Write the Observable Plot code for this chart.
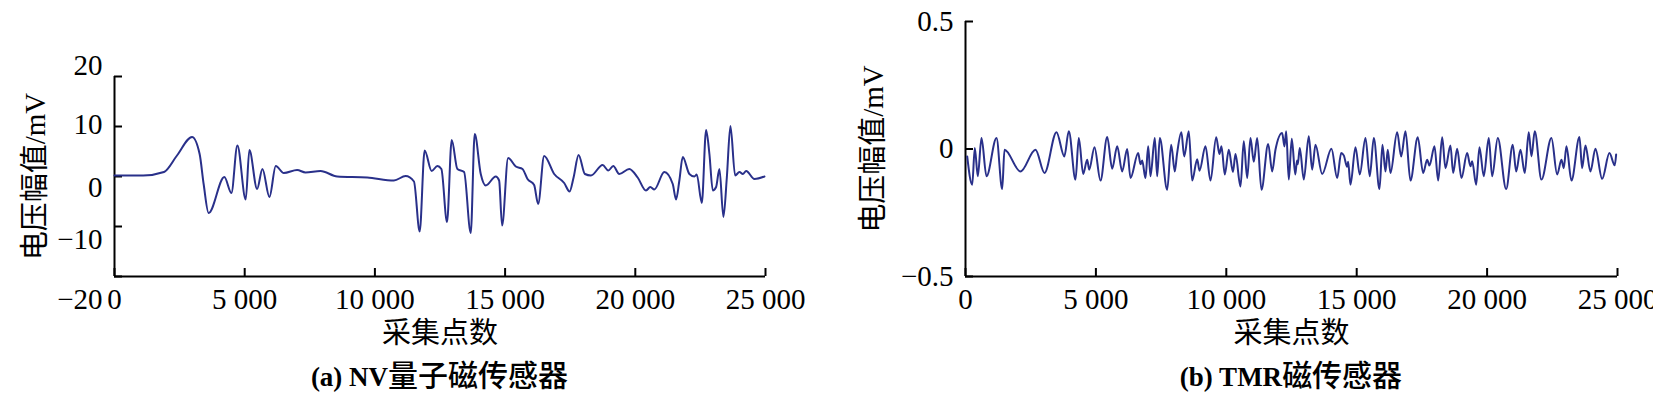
<!DOCTYPE html>
<html><head><meta charset="utf-8">
<script src="https://cdn.jsdelivr.net/npm/d3@7"></script>
<script src="https://cdn.jsdelivr.net/npm/@observablehq/plot@0.6"></script>
<style>
body{margin:0;background:#fff;}
#wrap{display:flex;width:1653px;height:398px;overflow:hidden;}
.panel{position:relative;height:398px;}
.panel svg{overflow:visible;display:block;}
.cap{position:absolute;top:352px;height:46px;line-height:42px;text-align:center;white-space:nowrap;color:#000;}
.cap .lat{font-family:'Liberation Serif',serif;font-weight:bold;font-size:27px;}
.cap .cjk{font-family:'Noto Sans CJK SC',sans-serif;font-weight:500;font-size:30px;}
</style></head>
<body><div id="wrap"></div>
<script>
// ---- data (a) NV quantum magnetic sensor ----
const nvX = [0,1100,1900,2400,2977,3269,3423,3615,4219,4488,4719,5039,5180,5476,5681,5950,6193,6500,7014,7335,7911,8553,9707,10731,11180,11500,11719,11911,12180,12399,12553,12769,12950,13168,13425,13680,13834,14065,14257,14642,14770,14885,15116,15412,15668,15861,16115,16269,16500,16885,17269,17476,17630,17822,18065,18296,18745,18962,19154,19384,19769,20091,20411,20576,20730,21115,21438,21565,21692,21822,22076,22269,22360,22553,22719,22846,22976,23103,23230,23384,23515,23653,23834,24000,24130,24257,24576,24961];
const nvY = [0.2,0.2,0.9,4.2,7.9,4.5,-1.5,-7.3,-0.1,-3.3,6.2,-4.6,5.3,-2.5,1.5,-4.1,2.1,0.7,1.3,0.8,1.1,0,-0.2,-0.8,0.1,-1,-11,5.2,1.1,2.1,1.5,-9.1,7.3,1.5,0.9,-11.3,8.5,0.5,-1.8,0,-0.8,-9.8,3.7,2,1.5,-0.5,-1.7,-5.5,4.1,0.5,-1.3,-3,-0.2,4.3,0.5,0.2,2.3,1.2,2.1,0.5,1.5,-0.2,-2.8,-2.1,-2.6,0.9,-1.5,-4.6,-0.8,3.9,0.5,0,0.4,-5.3,9.3,4.5,-2.8,-2.1,1.5,-8.1,-0.2,10.1,0.2,0.9,0.5,1.1,-0.5,0];

// ---- data (b) TMR magnetic sensor ----
const tmrX = [65,257,357,472,613,805,1189,1407,1495,2109,2684,3029,3489,3789,3961,4217,4344,4513,4666,4743,4946,5176,5433,5625,5816,6008,6200,6326,6621,6710,6775,6901,7005,7093,7258,7350,7450,7733,7887,8025,8110,8277,8385,8561,8692,8884,8972,9202,9393,9612,9738,9815,9942,10095,10256,10352,10544,10670,10801,10927,11054,11184,11349,11606,11759,11885,12142,12230,12296,12396,12511,12645,12712,12740,12817,12971,13162,13293,13419,13676,14032,14251,14404,14504,14634,14672,14761,14953,15118,15336,15501,15655,15873,15988,16103,16191,16295,16551,16705,16870,17061,17341,17548,17702,17790,17982,18124,18277,18403,18595,18698,18852,19016,19235,19362,19427,19580,19707,19872,20064,20194,20409,20731,20984,21115,21279,21444,21597,21701,21827,22084,22467,22686,22851,22939,23042,23234,23541,23644,23771,23962,24154,24411,24691,24894,24947];
const tmrY = [-0.029,-0.14,0.004,-0.107,0.043,-0.107,0.043,-0.157,-0.003,-0.088,-0.003,-0.094,0.066,-0.029,0.07,-0.12,0.043,-0.098,-0.042,-0.081,0.007,-0.124,0.047,-0.077,0.011,-0.088,0.0,-0.114,-0.016,-0.06,-0.045,-0.114,0.011,-0.107,0.043,-0.107,0.043,-0.16,0.017,-0.088,-0.02,0.066,-0.029,0.07,-0.124,-0.04,-0.085,0.011,-0.124,0.046,-0.02,0.011,-0.1,-0.003,-0.09,-0.02,-0.147,0.03,-0.114,0.043,-0.05,0.043,-0.16,0.02,-0.088,-0.003,0.063,0.01,0.07,-0.12,0.04,-0.1,-0.045,-0.06,0.004,-0.12,0.05,-0.081,0.017,-0.098,0.001,-0.114,-0.016,-0.025,-0.07,-0.05,-0.14,0.007,-0.1,0.043,-0.107,0.043,-0.157,0.017,-0.088,-0.003,-0.094,0.066,-0.029,0.07,-0.124,0.046,-0.094,-0.042,-0.065,0.011,-0.124,0.046,-0.075,0.014,-0.094,0.001,-0.114,-0.016,-0.068,-0.048,-0.14,0.007,-0.107,0.043,-0.107,0.043,-0.157,0.017,-0.088,-0.003,-0.094,0.066,-0.029,0.07,-0.12,0.043,-0.1,-0.042,-0.075,0.011,-0.124,0.047,-0.075,0.014,-0.088,0.001,-0.117,-0.016,-0.064,-0.022];

// ---- ticks & texts ----
const xTicks = [0,5000,10000,15000,20000,25000];
const nvTicks = [-20,-10,0,10,20];
const tmrTicks = [-0.5,0,0.5];
const xTitle = "采集点数";
const yTitle = "电压幅值/mV";
const capA = ["(a) NV", "量子磁传感器"];
const capB = ["(b) TMR", "磁传感器"];

// ---- styles ----
const lineColor = "#29308a";
const font = "'Liberation Serif','Noto Sans CJK SC',serif";
const fmtX = d => d3.format(",")(d).replace(/,/g, " ");
const fmtY = d3.format("");
const nvLabelShift = {"20": -11, "10": -2, "0": 11, "-10": 13, "-20": 23};

const nv = nvX.map((x, i) => ({x, y: nvY[i]}));
const tmr = tmrX.map((x, i) => ({x, y: tmrY[i]}));

function makePanel({width, ml, mr, mt, data, yDomain, yMarks, yLabelOffset, cap}) {
  const chart = Plot.plot({
    width, height: 352,
    marginLeft: ml, marginRight: mr, marginTop: mt, marginBottom: 76,
    style: {fontFamily: font, fontSize: "29px", color: "#000", background: "#fff", overflow: "visible"},
    x: {domain: [0, 25000]},
    y: {domain: yDomain},
    marks: [
      Plot.ruleY([yDomain[0]], {stroke: "#000", strokeWidth: 2}),
      Plot.ruleX([0], {stroke: "#000", strokeWidth: 2}),
      Plot.axisX(xTicks, {tickSize: -8, tickPadding: 20, strokeWidth: 2, tickFormat: fmtX,
        label: xTitle, labelAnchor: "center", labelArrow: "none", labelOffset: 66}),
      ...yMarks(yLabelOffset),
      Plot.line(data, {x: "x", y: "y", stroke: lineColor, strokeWidth: 2, curve: "monotone-x"})
    ]
  });
  const div = document.createElement("div");
  div.className = "panel";
  div.style.width = width + "px";
  div.appendChild(chart);
  const c = document.createElement("div");
  c.className = "cap";
  c.style.left = ml + "px";
  c.style.width = (width - ml - mr) + "px";
  c.innerHTML = `<span class="lat">${cap[0]}</span><span class="cjk">${cap[1]}</span>`;
  div.appendChild(c);
  return div;
}

const wrap = document.getElementById("wrap");
wrap.appendChild(makePanel({
  width: 826, ml: 114, mr: 61, mt: 76, data: nv, yDomain: [-20, 20], yLabelOffset: 90, cap: capA,
  yMarks: (off) => [
    Plot.axisY(nvTicks, {tickSize: -8, strokeWidth: 2, tickFormat: () => "",
      label: yTitle, labelAnchor: "center", labelArrow: "none", labelOffset: off}),
    ...nvTicks.map(t => Plot.axisY([t], {tickSize: 0, tickPadding: 12, tickFormat: fmtY,
      dy: nvLabelShift[String(t)], label: null}))
  ]
}));
wrap.appendChild(makePanel({
  width: 827, ml: 139, mr: 36, mt: 21, data: tmr, yDomain: [-0.5, 0.5], yLabelOffset: 103, cap: capB,
  yMarks: (off) => [
    Plot.axisY(tmrTicks, {tickSize: -8, tickPadding: 20, strokeWidth: 2, tickFormat: fmtY,
      label: yTitle, labelAnchor: "center", labelArrow: "none", labelOffset: off})
  ]
}));
</script>
</body></html>
